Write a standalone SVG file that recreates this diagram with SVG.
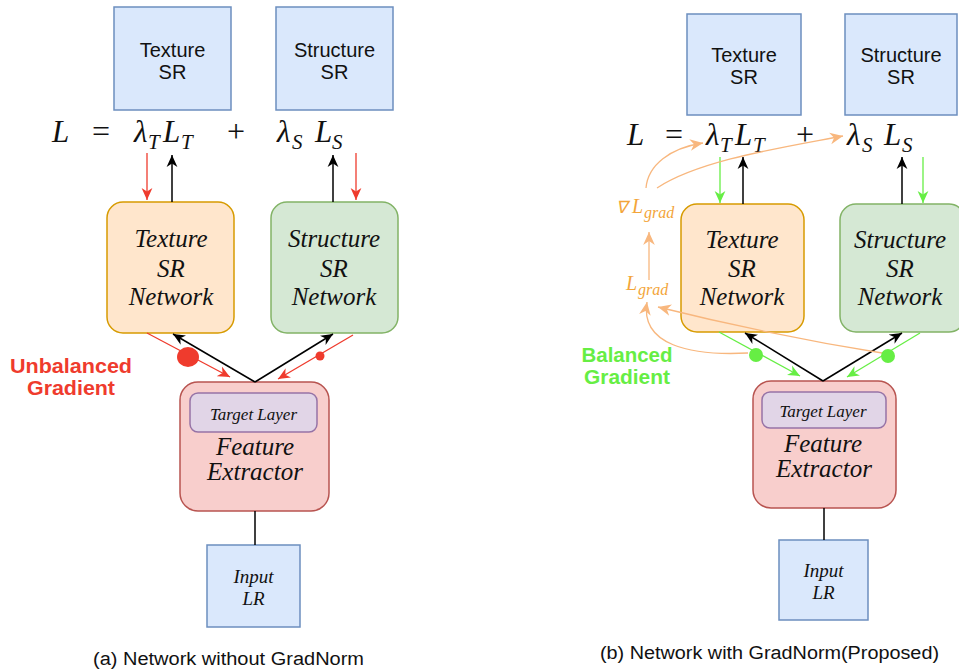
<svg xmlns="http://www.w3.org/2000/svg" width="959" height="671" viewBox="0 0 959 671">
<style>
.sr{fill:#dae8fc;stroke:#6c8ebf;stroke-width:1.5}
.tex{fill:#ffe6cc;stroke:#d79b00;stroke-width:1.5}
.str{fill:#d5e8d4;stroke:#82b366;stroke-width:1.5}
.fe{fill:#f8cecc;stroke:#b85450;stroke-width:1.5}
.tl{fill:#e1d5e7;stroke:#9673a6;stroke-width:1.5}
.sans{font-family:"Liberation Sans",Arial,sans-serif;font-size:20px;fill:#111;text-anchor:middle}
.it{font-family:"Liberation Serif","Times New Roman",serif;font-style:italic;fill:#111;text-anchor:middle}
.eq{font-family:"Liberation Serif","Times New Roman",serif;font-style:italic;font-size:31px;fill:#111}
.sub{font-family:"Liberation Serif","Times New Roman",serif;font-style:italic;font-size:21px;fill:#111}
.op{font-family:"Liberation Serif","Times New Roman",serif;font-size:32px;fill:#111}
.og{font-family:"Liberation Serif","Times New Roman",serif;font-style:italic;fill:#f3a53a}
.lbl{font-family:"Liberation Sans",Arial,sans-serif;font-weight:bold;font-size:20px;text-anchor:middle}
.cap{font-family:"Liberation Sans Narrow","Liberation Sans",Arial,sans-serif;font-size:18px;fill:#111}
.k{stroke:#000;stroke-width:1.5;fill:none}
.r{stroke:#ef3b2d;stroke-width:1.3;fill:none}
.g{stroke:#66ee44;stroke-width:1.3;fill:none}
.o{stroke:#f8b77e;stroke-width:1.3;fill:none}
</style>
<defs>
<marker id="ak" viewBox="0 0 10 10" refX="10" refY="5" markerWidth="12" markerHeight="12" markerUnits="userSpaceOnUse" orient="auto"><path d="M0,0.5 L10,5 L0,9.5 L3,5 z" fill="#000"/></marker>
<marker id="ar" viewBox="0 0 10 10" refX="10" refY="5" markerWidth="12" markerHeight="12" markerUnits="userSpaceOnUse" orient="auto"><path d="M0,0.5 L10,5 L0,9.5 L3,5 z" fill="#ef3b2d"/></marker>
<marker id="ag" viewBox="0 0 10 10" refX="10" refY="5" markerWidth="12" markerHeight="12" markerUnits="userSpaceOnUse" orient="auto"><path d="M0,0.5 L10,5 L0,9.5 L3,5 z" fill="#66ee44"/></marker>
<marker id="ao" viewBox="0 0 10 10" refX="10" refY="5" markerWidth="13" markerHeight="13" markerUnits="userSpaceOnUse" orient="auto"><path d="M0,0.5 L10,5 L0,9.5 L3,5 z" fill="#f8b77e"/></marker>
</defs>
<rect width="959" height="671" fill="#fff"/>

<!-- ===== Panel (a) ===== -->
<g id="a-texture-sr"><rect class="sr" x="114" y="7" width="117" height="103"/><text class="sans" x="172.5" y="57">Texture</text><text class="sans" x="172.5" y="79">SR</text></g>
<g id="a-structure-sr"><rect class="sr" x="276" y="7" width="117" height="103"/><text class="sans" x="334.5" y="57">Structure</text><text class="sans" x="334.5" y="79">SR</text></g>
<g id="a-equation">
<text class="eq" x="52" y="142">L</text>
<text class="op" x="92" y="142">=</text>
<text class="eq" x="134" y="142">λ</text><text class="sub" x="148" y="149">T</text>
<text class="eq" x="163" y="142">L</text><text class="sub" x="181" y="149">T</text>
<text class="op" x="227" y="142">+</text>
<text class="eq" x="277" y="142">λ</text><text class="sub" x="292" y="149">S</text>
<text class="eq" x="315" y="142">L</text><text class="sub" x="332" y="149">S</text>
</g>
<g id="a-texture-net"><rect class="tex" x="107" y="202" width="127" height="131" rx="16"/><text class="it" font-size="25" x="171" y="247">Texture</text><text class="it" font-size="25" x="171" y="277">SR</text><text class="it" font-size="25" x="171" y="305">Network</text></g>
<g id="a-structure-net"><rect class="str" x="271" y="202" width="127" height="131" rx="16"/><text class="it" font-size="25" x="334" y="247">Structure</text><text class="it" font-size="25" x="334" y="277">SR</text><text class="it" font-size="25" x="334" y="305">Network</text></g>
<g id="a-feature"><rect class="fe" x="180" y="382" width="149" height="129" rx="18"/><rect class="tl" x="190" y="393" width="127" height="39" rx="8"/><text class="it" font-size="17" x="253.5" y="420">Target Layer</text><text class="it" font-size="25" x="255" y="455">Feature</text><text class="it" font-size="25" x="255" y="480">Extractor</text></g>
<g id="a-input"><rect class="sr" x="207" y="545" width="93" height="82"/><text class="it" font-size="19" x="253.5" y="583">Input</text><text class="it" font-size="19" x="253.5" y="605">LR</text></g>
<text class="lbl" fill="#ef3b2d" x="71" y="373" textLength="122" lengthAdjust="spacingAndGlyphs">Unbalanced</text>
<text class="lbl" fill="#ef3b2d" x="71" y="395" textLength="88" lengthAdjust="spacingAndGlyphs">Gradient</text>
<text class="cap" x="93" y="665" textLength="271" lengthAdjust="spacingAndGlyphs">(a) Network without GradNorm</text>

<g id="a-connectors">
<line class="r" x1="147" y1="153" x2="147" y2="200" marker-end="url(#ar)"/>
<line class="k" x1="172" y1="202" x2="172" y2="155" marker-end="url(#ak)"/>
<line class="k" x1="333" y1="202" x2="333" y2="155" marker-end="url(#ak)"/>
<line class="r" x1="356" y1="153" x2="356" y2="200" marker-end="url(#ar)"/>
<line class="k" x1="255" y1="382" x2="173" y2="334" marker-end="url(#ak)"/>
<line class="k" x1="255" y1="382" x2="333" y2="334" marker-end="url(#ak)"/>
<line class="r" x1="147" y1="333" x2="230" y2="377" marker-end="url(#ar)"/>
<line class="r" x1="353" y1="335" x2="278" y2="379" marker-end="url(#ar)"/>
<ellipse cx="188" cy="357" rx="11" ry="10" fill="#ef3b2d"/>
<circle cx="320" cy="356" r="4.5" fill="#ef3b2d"/>
<line class="k" x1="255" y1="511" x2="255" y2="545"/>
</g>

<!-- ===== Panel (b) ===== -->
<g id="b-texture-sr"><rect class="sr" x="687" y="14" width="114" height="101"/><text class="sans" x="744" y="62">Texture</text><text class="sans" x="744" y="84">SR</text></g>
<g id="b-structure-sr"><rect class="sr" x="845" y="14" width="112" height="101"/><text class="sans" x="901" y="62">Structure</text><text class="sans" x="901" y="84">SR</text></g>
<g id="b-equation">
<text class="eq" x="627" y="145">L</text>
<text class="op" x="665" y="145">=</text>
<text class="eq" x="706" y="145">λ</text><text class="sub" x="720" y="152">T</text>
<text class="eq" x="735" y="145">L</text><text class="sub" x="753" y="152">T</text>
<text class="op" x="796" y="145">+</text>
<text class="eq" x="847" y="145">λ</text><text class="sub" x="862" y="152">S</text>
<text class="eq" x="884" y="145">L</text><text class="sub" x="902" y="152">S</text>
</g>
<g id="b-texture-net"><rect class="tex" x="681" y="204" width="123" height="128" rx="16"/><text class="it" font-size="25" x="742" y="248">Texture</text><text class="it" font-size="25" x="742" y="277">SR</text><text class="it" font-size="25" x="742" y="305">Network</text></g>
<g id="b-structure-net"><rect class="str" x="840" y="204" width="125" height="128" rx="16"/><text class="it" font-size="25" x="900" y="248">Structure</text><text class="it" font-size="25" x="900" y="277">SR</text><text class="it" font-size="25" x="900" y="305">Network</text></g>
<g id="b-feature"><rect class="fe" x="753" y="381" width="143" height="127" rx="18"/><rect class="tl" x="762" y="392" width="124" height="36" rx="8"/><text class="it" font-size="17" x="823" y="417">Target Layer</text><text class="it" font-size="25" x="823" y="452">Feature</text><text class="it" font-size="25" x="824" y="477">Extractor</text></g>
<g id="b-input"><rect class="sr" x="779" y="540" width="89" height="80"/><text class="it" font-size="19" x="823.5" y="577">Input</text><text class="it" font-size="19" x="823.5" y="599">LR</text></g>
<g id="b-grad-labels">
<text class="og" x="616" y="213" font-size="17" font-style="normal">∇</text><text class="og" x="632" y="213" font-size="20">L</text><text class="og" x="644" y="218" font-size="16">grad</text>
<text class="og" x="626" y="290" font-size="20">L</text><text class="og" x="638" y="295" font-size="16">grad</text>
</g>
<text class="lbl" fill="#66ee44" x="627" y="362" textLength="91" lengthAdjust="spacingAndGlyphs">Balanced</text>
<text class="lbl" fill="#66ee44" x="627" y="384" textLength="86" lengthAdjust="spacingAndGlyphs">Gradient</text>
<text class="cap" x="600" y="659" textLength="339" lengthAdjust="spacingAndGlyphs">(b) Network with GradNorm(Proposed)</text>

<g id="b-connectors">
<line class="g" x1="720" y1="157" x2="720" y2="203" marker-end="url(#ag)"/>
<line class="k" x1="743" y1="204" x2="743" y2="157" marker-end="url(#ak)"/>
<line class="k" x1="902" y1="204" x2="902" y2="157" marker-end="url(#ak)"/>
<line class="g" x1="923" y1="157" x2="923" y2="203" marker-end="url(#ag)"/>
<line class="k" x1="823" y1="381" x2="745" y2="333" marker-end="url(#ak)"/>
<line class="k" x1="823" y1="381" x2="902" y2="333" marker-end="url(#ak)"/>
<line class="g" x1="719" y1="332" x2="800" y2="376" marker-end="url(#ag)"/>
<line class="g" x1="920" y1="333" x2="847" y2="377" marker-end="url(#ag)"/>
<path class="o" d="M646,188 C648,165 670,148 703,143" marker-end="url(#ao)"/>
<path class="o" d="M657,188 C700,160 780,148 843,136" marker-end="url(#ao)"/>
<line class="o" x1="649" y1="280" x2="649" y2="232" marker-end="url(#ao)"/>
<path class="o" d="M748,353 C690,356 640,345 647,302" marker-end="url(#ao)"/>
<path class="o" d="M888,354 Q770,335 658,307" marker-end="url(#ao)"/>
<circle cx="756" cy="355" r="7" fill="#66ee44"/>
<circle cx="888" cy="356" r="7" fill="#66ee44"/>
<line class="k" x1="824" y1="508" x2="824" y2="540"/>
</g>
</svg>
